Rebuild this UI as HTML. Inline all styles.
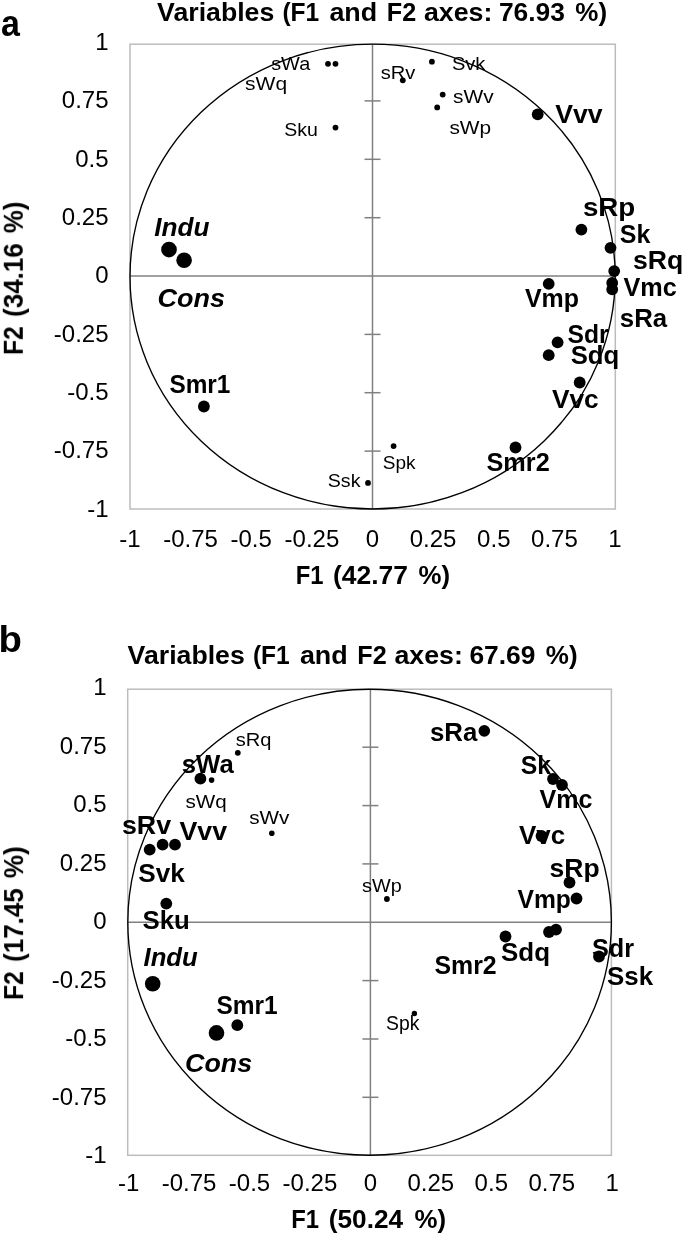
<!DOCTYPE html>
<html lang="en"><head><meta charset="utf-8"><title>Variables (F1 and F2 axes)</title>
<style>html,body{margin:0;padding:0;background:#fff}body{width:685px;height:1237px;overflow:hidden}svg{display:block}text{font-family:"Liberation Sans", Arial, Helvetica, sans-serif}</style>
</head><body>
<svg width="685" height="1237" viewBox="0 0 685 1237">
<rect width="685" height="1237" fill="#fff"/>
<defs><filter id="soft" x="0" y="0" width="685" height="1237" filterUnits="userSpaceOnUse"><feGaussianBlur stdDeviation="0.45"/></filter></defs>
<text x="1.0" y="35.9" font-size="37.5" font-weight="bold" textLength="18.9" lengthAdjust="spacingAndGlyphs">a</text>
<g id="panel-a" filter="url(#soft)">
<text font-size="26.5" font-weight="bold"><tspan x="157.1" y="21.0" textLength="117.2" lengthAdjust="spacingAndGlyphs">Variables</tspan> <tspan x="282.4" y="21.0" textLength="36.8" lengthAdjust="spacingAndGlyphs">(F1</tspan> <tspan x="329.4" y="21.0" textLength="47.8" lengthAdjust="spacingAndGlyphs">and</tspan> <tspan x="386.8" y="21.0" textLength="29.4" lengthAdjust="spacingAndGlyphs">F2</tspan> <tspan x="424.0" y="21.0" textLength="68.4" lengthAdjust="spacingAndGlyphs">axes:</tspan> <tspan x="498.9" y="21.0" textLength="66.1" lengthAdjust="spacingAndGlyphs">76.93</tspan> <tspan x="575.3" y="21.0" textLength="31.8" lengthAdjust="spacingAndGlyphs">%)</tspan></text>
<rect x="130.0" y="44.2" width="485.3" height="464.8" fill="none" stroke="#bcbcbc" stroke-width="1.5"/>
<g stroke="#808080" stroke-width="1.5">
<line x1="130.0" y1="276.0" x2="615.3" y2="276.0"/>
<line x1="372.5" y1="44.2" x2="372.5" y2="509.0"/>
<line x1="364.5" y1="451.1" x2="380.5" y2="451.1"/>
<line x1="364.5" y1="392.7" x2="380.5" y2="392.7"/>
<line x1="364.5" y1="334.4" x2="380.5" y2="334.4"/>
<line x1="364.5" y1="217.7" x2="380.5" y2="217.7"/>
<line x1="364.5" y1="159.3" x2="380.5" y2="159.3"/>
<line x1="364.5" y1="100.9" x2="380.5" y2="100.9"/>
</g>
<ellipse cx="372.6" cy="276.6" rx="242.6" ry="232.4" fill="none" stroke="#000" stroke-width="1.35"/>
<g font-size="24">
<g text-anchor="end">
<text x="108.5" y="516.5">-1</text>
<text x="108.5" y="458.2">-0.75</text>
<text x="108.5" y="399.9">-0.5</text>
<text x="108.5" y="341.5">-0.25</text>
<text x="108.5" y="283.2">0</text>
<text x="108.5" y="224.9">0.25</text>
<text x="108.5" y="166.5">0.5</text>
<text x="108.5" y="108.2">0.75</text>
<text x="108.5" y="49.9">1</text>
</g><g text-anchor="middle">
<text x="130.0" y="547.3">-1</text>
<text x="190.6" y="547.3">-0.75</text>
<text x="251.2" y="547.3">-0.5</text>
<text x="311.9" y="547.3">-0.25</text>
<text x="372.5" y="547.3">0</text>
<text x="433.1" y="547.3">0.25</text>
<text x="493.8" y="547.3">0.5</text>
<text x="554.4" y="547.3">0.75</text>
<text x="615.0" y="547.3">1</text>
</g></g>
<text font-size="26" font-weight="bold"><tspan x="295.8" y="583.8" textLength="27.8" lengthAdjust="spacingAndGlyphs">F1</tspan> <tspan x="333.0" y="583.8" textLength="75.0" lengthAdjust="spacingAndGlyphs">(42.77</tspan> <tspan x="418.5" y="583.8" textLength="31.6" lengthAdjust="spacingAndGlyphs">%)</tspan></text>
<g transform="translate(22.8,355.2) rotate(-90)">
<text font-size="28.5" font-weight="bold"><tspan x="0.3" y="0.0" textLength="28.7" lengthAdjust="spacingAndGlyphs">F2</tspan> <tspan x="38.3" y="0.0" textLength="73.7" lengthAdjust="spacingAndGlyphs">(34.16</tspan> <tspan x="122.0" y="0.0" textLength="31.6" lengthAdjust="spacingAndGlyphs">%)</tspan></text>
</g>
<circle cx="169.0" cy="249.6" r="7.80"/>
<circle cx="184.1" cy="260.3" r="7.80"/>
<circle cx="203.9" cy="406.5" r="5.90"/>
<circle cx="537.7" cy="114.3" r="5.90"/>
<circle cx="581.4" cy="229.6" r="5.90"/>
<circle cx="610.5" cy="247.8" r="5.90"/>
<circle cx="614.2" cy="271.1" r="5.90"/>
<circle cx="612.2" cy="283.0" r="5.90"/>
<circle cx="612.2" cy="289.4" r="5.90"/>
<circle cx="548.7" cy="283.8" r="5.90"/>
<circle cx="557.6" cy="342.3" r="5.90"/>
<circle cx="548.7" cy="355.2" r="5.90"/>
<circle cx="579.7" cy="382.5" r="5.90"/>
<circle cx="515.5" cy="447.5" r="5.90"/>
<circle cx="328.0" cy="63.8" r="2.90"/>
<circle cx="335.5" cy="63.8" r="2.90"/>
<circle cx="335.5" cy="127.6" r="2.90"/>
<circle cx="431.9" cy="61.7" r="2.90"/>
<circle cx="402.8" cy="80.3" r="2.90"/>
<circle cx="442.7" cy="94.6" r="2.90"/>
<circle cx="437.2" cy="107.4" r="2.90"/>
<circle cx="393.6" cy="446.1" r="2.90"/>
<circle cx="368.0" cy="482.9" r="2.90"/>
<text x="154.3" y="236.0" font-size="26.5" font-weight="bold" font-style="italic" textLength="55.3" lengthAdjust="spacingAndGlyphs">Indu</text>
<text x="157.5" y="307.2" font-size="26.5" font-weight="bold" font-style="italic" textLength="67.5" lengthAdjust="spacingAndGlyphs">Cons</text>
<text x="169.4" y="392.8" font-size="26.5" font-weight="bold" textLength="61.0" lengthAdjust="spacingAndGlyphs">Smr1</text>
<text x="555.2" y="123.4" font-size="26.5" font-weight="bold" textLength="47.4" lengthAdjust="spacingAndGlyphs">Vvv</text>
<text x="582.9" y="215.8" font-size="26.5" font-weight="bold" textLength="52.4" lengthAdjust="spacingAndGlyphs">sRp</text>
<text x="619.8" y="243.0" font-size="26.5" font-weight="bold" textLength="30.6" lengthAdjust="spacingAndGlyphs">Sk</text>
<text x="633.0" y="269.0" font-size="26.5" font-weight="bold" textLength="50.3" lengthAdjust="spacingAndGlyphs">sRq</text>
<text x="623.4" y="295.5" font-size="26.5" font-weight="bold" textLength="53.3" lengthAdjust="spacingAndGlyphs">Vmc</text>
<text x="524.9" y="306.5" font-size="26.5" font-weight="bold" textLength="54.0" lengthAdjust="spacingAndGlyphs">Vmp</text>
<text x="619.8" y="326.8" font-size="26.5" font-weight="bold" textLength="47.4" lengthAdjust="spacingAndGlyphs">sRa</text>
<text x="567.5" y="343.0" font-size="26.5" font-weight="bold" textLength="41.1" lengthAdjust="spacingAndGlyphs">Sdr</text>
<text x="570.7" y="364.2" font-size="26.5" font-weight="bold" textLength="48.6" lengthAdjust="spacingAndGlyphs">Sdq</text>
<text x="551.9" y="407.7" font-size="26.5" font-weight="bold" textLength="46.8" lengthAdjust="spacingAndGlyphs">Vvc</text>
<text x="486.5" y="471.3" font-size="26.5" font-weight="bold" textLength="63.2" lengthAdjust="spacingAndGlyphs">Smr2</text>
<text x="271.2" y="70.3" font-size="19" textLength="39.0" lengthAdjust="spacingAndGlyphs">sWa</text>
<text x="245.1" y="89.6" font-size="19" textLength="42.0" lengthAdjust="spacingAndGlyphs">sWq</text>
<text x="284.2" y="136.2" font-size="19" textLength="33.6" lengthAdjust="spacingAndGlyphs">Sku</text>
<text x="380.8" y="79.2" font-size="19" textLength="34.6" lengthAdjust="spacingAndGlyphs">sRv</text>
<text x="451.9" y="69.8" font-size="19" textLength="33.5" lengthAdjust="spacingAndGlyphs">Svk</text>
<text x="453.0" y="103.2" font-size="19" textLength="40.6" lengthAdjust="spacingAndGlyphs">sWv</text>
<text x="449.4" y="134.3" font-size="19" textLength="41.7" lengthAdjust="spacingAndGlyphs">sWp</text>
<text x="382.8" y="468.9" font-size="19" textLength="32.8" lengthAdjust="spacingAndGlyphs">Spk</text>
<text x="327.8" y="487.1" font-size="19" textLength="32.7" lengthAdjust="spacingAndGlyphs">Ssk</text>
</g>
<text x="-1.4" y="651.8" font-size="36" font-weight="bold" textLength="23.4" lengthAdjust="spacingAndGlyphs">b</text>
<g id="panel-b" filter="url(#soft)">
<text font-size="26.5" font-weight="bold"><tspan x="127.6" y="664.0" textLength="117.2" lengthAdjust="spacingAndGlyphs">Variables</tspan> <tspan x="252.9" y="664.0" textLength="36.8" lengthAdjust="spacingAndGlyphs">(F1</tspan> <tspan x="299.9" y="664.0" textLength="47.8" lengthAdjust="spacingAndGlyphs">and</tspan> <tspan x="357.3" y="664.0" textLength="29.4" lengthAdjust="spacingAndGlyphs">F2</tspan> <tspan x="394.5" y="664.0" textLength="68.4" lengthAdjust="spacingAndGlyphs">axes:</tspan> <tspan x="469.4" y="664.0" textLength="66.1" lengthAdjust="spacingAndGlyphs">67.69</tspan> <tspan x="545.8" y="664.0" textLength="31.8" lengthAdjust="spacingAndGlyphs">%)</tspan></text>
<rect x="127.7" y="689.2" width="483.7" height="466.1" fill="none" stroke="#bcbcbc" stroke-width="1.5"/>
<g stroke="#808080" stroke-width="1.5">
<line x1="127.7" y1="922.3" x2="611.4" y2="922.3"/>
<line x1="370.4" y1="689.2" x2="370.4" y2="1155.3"/>
<line x1="362.4" y1="1097.3" x2="378.4" y2="1097.3"/>
<line x1="362.4" y1="1039.0" x2="378.4" y2="1039.0"/>
<line x1="362.4" y1="980.6" x2="378.4" y2="980.6"/>
<line x1="362.4" y1="863.9" x2="378.4" y2="863.9"/>
<line x1="362.4" y1="805.6" x2="378.4" y2="805.6"/>
<line x1="362.4" y1="747.2" x2="378.4" y2="747.2"/>
</g>
<ellipse cx="369.6" cy="922.2" rx="241.8" ry="233.0" fill="none" stroke="#000" stroke-width="1.35"/>
<g font-size="24">
<g text-anchor="end">
<text x="106.5" y="1163.4">-1</text>
<text x="106.5" y="1104.9">-0.75</text>
<text x="106.5" y="1046.4">-0.5</text>
<text x="106.5" y="987.9">-0.25</text>
<text x="106.5" y="929.4">0</text>
<text x="106.5" y="870.9">0.25</text>
<text x="106.5" y="812.4">0.5</text>
<text x="106.5" y="753.9">0.75</text>
<text x="106.5" y="695.4">1</text>
</g><g text-anchor="middle">
<text x="128.6" y="1190.6">-1</text>
<text x="189.0" y="1190.6">-0.75</text>
<text x="249.5" y="1190.6">-0.5</text>
<text x="309.9" y="1190.6">-0.25</text>
<text x="370.4" y="1190.6">0</text>
<text x="430.8" y="1190.6">0.25</text>
<text x="491.3" y="1190.6">0.5</text>
<text x="551.8" y="1190.6">0.75</text>
<text x="612.2" y="1190.6">1</text>
</g></g>
<text font-size="26" font-weight="bold"><tspan x="291.3" y="1228.0" textLength="27.8" lengthAdjust="spacingAndGlyphs">F1</tspan> <tspan x="328.8" y="1228.0" textLength="74.3" lengthAdjust="spacingAndGlyphs">(50.24</tspan> <tspan x="414.5" y="1228.0" textLength="31.6" lengthAdjust="spacingAndGlyphs">%)</tspan></text>
<g transform="translate(23.1,1000.2) rotate(-90)">
<text font-size="28.5" font-weight="bold"><tspan x="0.3" y="0.0" textLength="28.7" lengthAdjust="spacingAndGlyphs">F2</tspan> <tspan x="38.3" y="0.0" textLength="73.7" lengthAdjust="spacingAndGlyphs">(17.45</tspan> <tspan x="122.0" y="0.0" textLength="32.0" lengthAdjust="spacingAndGlyphs">%)</tspan></text>
</g>
<circle cx="152.7" cy="983.8" r="7.80"/>
<circle cx="216.5" cy="1032.9" r="7.80"/>
<circle cx="237.3" cy="1025.2" r="5.90"/>
<circle cx="200.4" cy="778.7" r="5.90"/>
<circle cx="149.7" cy="849.6" r="5.90"/>
<circle cx="162.6" cy="844.7" r="5.90"/>
<circle cx="175.0" cy="844.7" r="5.90"/>
<circle cx="166.3" cy="903.6" r="5.90"/>
<circle cx="484.3" cy="730.9" r="5.80"/>
<circle cx="553.0" cy="779.0" r="5.90"/>
<circle cx="562.0" cy="785.0" r="5.90"/>
<circle cx="541.5" cy="836.0" r="5.90"/>
<circle cx="569.5" cy="882.5" r="5.90"/>
<circle cx="576.5" cy="898.5" r="5.90"/>
<circle cx="505.5" cy="936.5" r="5.90"/>
<circle cx="549.0" cy="932.0" r="5.90"/>
<circle cx="556.0" cy="929.6" r="5.90"/>
<circle cx="599.0" cy="956.5" r="5.90"/>
<circle cx="237.8" cy="752.8" r="2.90"/>
<circle cx="211.6" cy="780.1" r="2.80"/>
<circle cx="271.8" cy="833.2" r="2.80"/>
<circle cx="386.9" cy="899.0" r="2.90"/>
<circle cx="414.4" cy="1013.5" r="2.70"/>
<text x="143.5" y="965.7" font-size="26.5" font-weight="bold" font-style="italic" textLength="54.3" lengthAdjust="spacingAndGlyphs">Indu</text>
<text x="185.0" y="1071.8" font-size="26.5" font-weight="bold" font-style="italic" textLength="67.1" lengthAdjust="spacingAndGlyphs">Cons</text>
<text x="216.5" y="1013.5" font-size="26.5" font-weight="bold" textLength="61.2" lengthAdjust="spacingAndGlyphs">Smr1</text>
<text x="181.8" y="772.8" font-size="26.5" font-weight="bold" textLength="51.9" lengthAdjust="spacingAndGlyphs">sWa</text>
<text x="121.9" y="833.5" font-size="26.5" font-weight="bold" textLength="49.2" lengthAdjust="spacingAndGlyphs">sRv</text>
<text x="179.5" y="840.4" font-size="26.5" font-weight="bold" textLength="47.6" lengthAdjust="spacingAndGlyphs">Vvv</text>
<text x="138.3" y="881.9" font-size="26.5" font-weight="bold" textLength="46.5" lengthAdjust="spacingAndGlyphs">Svk</text>
<text x="142.5" y="928.5" font-size="26.5" font-weight="bold" textLength="47.3" lengthAdjust="spacingAndGlyphs">Sku</text>
<text x="429.9" y="740.7" font-size="26.5" font-weight="bold" textLength="47.4" lengthAdjust="spacingAndGlyphs">sRa</text>
<text x="520.8" y="773.8" font-size="26.5" font-weight="bold" textLength="30.3" lengthAdjust="spacingAndGlyphs">Sk</text>
<text x="539.5" y="807.5" font-size="26.5" font-weight="bold" textLength="52.9" lengthAdjust="spacingAndGlyphs">Vmc</text>
<text x="519.0" y="843.5" font-size="26.5" font-weight="bold" textLength="46.2" lengthAdjust="spacingAndGlyphs">Vvc</text>
<text x="549.5" y="877.0" font-size="26.5" font-weight="bold" textLength="50.1" lengthAdjust="spacingAndGlyphs">sRp</text>
<text x="517.5" y="908.0" font-size="26.5" font-weight="bold" textLength="53.4" lengthAdjust="spacingAndGlyphs">Vmp</text>
<text x="592.0" y="956.5" font-size="26.5" font-weight="bold" textLength="42.1" lengthAdjust="spacingAndGlyphs">Sdr</text>
<text x="607.0" y="985.0" font-size="26.5" font-weight="bold" textLength="46.1" lengthAdjust="spacingAndGlyphs">Ssk</text>
<text x="501.0" y="961.0" font-size="26.5" font-weight="bold" textLength="49.0" lengthAdjust="spacingAndGlyphs">Sdq</text>
<text x="434.5" y="973.5" font-size="26.5" font-weight="bold" textLength="62.2" lengthAdjust="spacingAndGlyphs">Smr2</text>
<text x="235.8" y="746.0" font-size="19" textLength="35.7" lengthAdjust="spacingAndGlyphs">sRq</text>
<text x="185.4" y="808.1" font-size="19" textLength="41.2" lengthAdjust="spacingAndGlyphs">sWq</text>
<text x="249.2" y="823.7" font-size="19" textLength="40.2" lengthAdjust="spacingAndGlyphs">sWv</text>
<text x="362.1" y="891.8" font-size="19" textLength="39.7" lengthAdjust="spacingAndGlyphs">sWp</text>
<text x="386.0" y="1030.0" font-size="20" textLength="33.4" lengthAdjust="spacingAndGlyphs">Spk</text>
</g>
</svg></body></html>
